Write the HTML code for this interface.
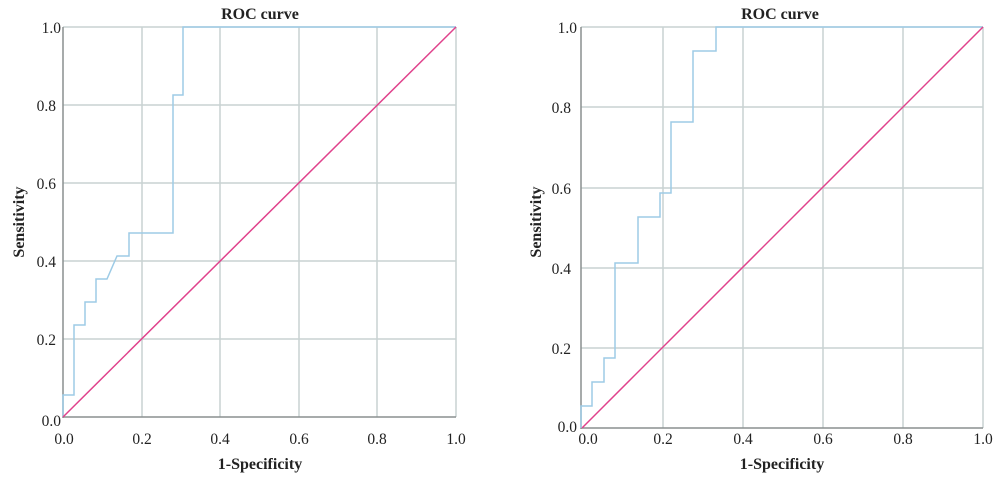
<!DOCTYPE html>
<html><head><meta charset="utf-8"><style>
body{margin:0;background:#fff;}
svg{display:block;font-family:"Liberation Serif","DejaVu Serif",serif;}
.t{font-size:15.5px;fill:#222;}
.b{font-size:16px;font-weight:bold;fill:#222;}
</style></head><body>
<svg width="1000" height="483" viewBox="0 0 1000 483">
<g stroke="#c9d2d2" stroke-width="1.5" fill="none">
<line x1="142" y1="27" x2="142" y2="417"/><line x1="220" y1="27" x2="220" y2="417"/>
<line x1="299" y1="27" x2="299" y2="417"/><line x1="377" y1="27" x2="377" y2="417"/>
<line x1="456" y1="27" x2="456" y2="417"/>
<line x1="63" y1="27" x2="456" y2="27"/><line x1="63" y1="105" x2="456" y2="105"/>
<line x1="63" y1="183" x2="456" y2="183"/><line x1="63" y1="261" x2="456" y2="261"/>
<line x1="63" y1="339" x2="456" y2="339"/>
</g>
<g stroke="#8a8f8f" stroke-width="1.5"><line x1="63" y1="27" x2="63" y2="418"/><line x1="63" y1="417" x2="456" y2="417"/></g>
<polyline fill="none" stroke="#9dcbe6" stroke-width="1.5" points="63,417 63,395 74,395 74,325 85,325 85,302 96,302 96,279 107,279 117,256 129,256 129,233 173,233 173,95 183,95 183,27 456,27"/>
<line x1="63" y1="417" x2="456" y2="27" stroke="#e0428c" stroke-width="1.5"/>
<text class="b" x="260" y="19" text-anchor="middle">ROC curve</text>
<g class="t" text-anchor="end"><text x="61" y="33">1.0</text><text x="56" y="111">0.8</text><text x="56" y="189">0.6</text><text x="56" y="267">0.4</text><text x="56" y="345">0.2</text><text x="61" y="426">0.0</text></g>
<g class="t" text-anchor="middle"><text x="64" y="444">0.0</text><text x="142" y="444">0.2</text><text x="220" y="444">0.4</text><text x="299" y="444">0.6</text><text x="377" y="444">0.8</text><text x="456" y="444">1.0</text></g>
<text class="b" x="260" y="469" text-anchor="middle">1-Specificity</text>
<text class="b" transform="translate(24,222) rotate(-90)" text-anchor="middle">Sensitivity</text>

<g stroke="#c9d2d2" stroke-width="1.5" fill="none">
<line x1="663" y1="27" x2="663" y2="428"/><line x1="743" y1="27" x2="743" y2="428"/>
<line x1="823" y1="27" x2="823" y2="428"/><line x1="903" y1="27" x2="903" y2="428"/>
<line x1="983" y1="27" x2="983" y2="428"/>
<line x1="581" y1="27" x2="983" y2="27"/><line x1="581" y1="107" x2="983" y2="107"/>
<line x1="581" y1="188" x2="983" y2="188"/><line x1="581" y1="268" x2="983" y2="268"/>
<line x1="581" y1="348" x2="983" y2="348"/>
</g>
<g stroke="#8a8f8f" stroke-width="1.5"><line x1="581" y1="27" x2="581" y2="429"/><line x1="581" y1="428" x2="983" y2="428"/></g>
<polyline fill="none" stroke="#9dcbe6" stroke-width="1.5" points="581,428 581,406 592,406 592,382 604,382 604,358 615,358 615,263 638,263 638,217 660,217 660,193 671,193 671,122 693,122 693,51 716,51 716,27 983,27"/>
<line x1="582" y1="428" x2="983" y2="27" stroke="#e0428c" stroke-width="1.5"/>
<text class="b" x="780" y="19" text-anchor="middle">ROC curve</text>
<g class="t" text-anchor="end"><text x="577" y="33">1.0</text><text x="571" y="113">0.8</text><text x="571" y="194">0.6</text><text x="571" y="274">0.4</text><text x="571" y="354">0.2</text><text x="577" y="432">0.0</text></g>
<g class="t" text-anchor="middle"><text x="588" y="444">0.0</text><text x="663" y="444">0.2</text><text x="743" y="444">0.4</text><text x="823" y="444">0.6</text><text x="903" y="444">0.8</text><text x="983" y="444">1.0</text></g>
<text class="b" x="782" y="469" text-anchor="middle">1-Specificity</text>
<text class="b" transform="translate(541,222) rotate(-90)" text-anchor="middle">Sensitivity</text>
</svg>
</body></html>
